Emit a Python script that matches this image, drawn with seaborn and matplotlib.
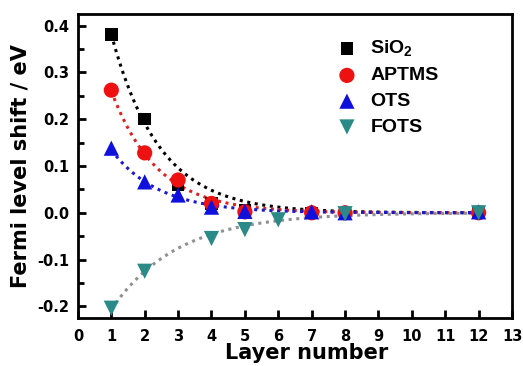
import numpy as np
import pandas as pd
import matplotlib
matplotlib.use("Agg")
import matplotlib.pyplot as plt
import seaborn as sns
from matplotlib.ticker import MultipleLocator

sns.set_style("ticks")
plt.rcParams['font.family'] = ['DejaVu Sans']
plt.rcParams['font.weight'] = 'bold'
plt.rcParams['text.color'] = 'black'
plt.rcParams['axes.labelcolor'] = 'black'
plt.rcParams['xtick.color'] = 'black'
plt.rcParams['ytick.color'] = 'black'
plt.rcParams['mathtext.fontset'] = 'custom'
plt.rcParams['mathtext.rm'] = 'Liberation Sans:bold'
plt.rcParams['mathtext.bf'] = 'Liberation Sans:bold'

# measured points
sio2_x = [1, 2, 3, 4, 5, 7, 8, 12]
sio2_y = [0.381, 0.200, 0.060, 0.020, 0.005, 0.000, 0.000, 0.000]
aptms_x = [1, 2, 3, 4, 5, 7, 8, 12]
aptms_y = [0.262, 0.128, 0.070, 0.020, 0.002, 0.000, 0.000, 0.000]
ots_x = [1, 2, 3, 4, 5, 7, 8, 12]
ots_y = [0.138, 0.066, 0.038, 0.012, 0.003, 0.002, 0.000, 0.002]
fots_x = [1, 2, 4, 5, 6, 8, 12]
fots_y = [-0.204, -0.125, -0.055, -0.036, -0.015, -0.002, 0.000]

# exponential fit parameters (amplitude, decay rate)
fit_amp = [0.76, 0.54, 0.27, -0.34]
fit_rate = [0.69, 0.73, 0.70, 0.50]

labels = ['SiO$_2$', 'APTMS', 'OTS', 'FOTS']
markers = ['s', 'o', '^', 'v']
mcolors = ['#000000', '#ee1111', '#1010dd', '#2a8a88']
lcolors = ['#000000', '#dd2222', '#1a1acc', '#909090']
sizes = [80, 120, 120, 120]

xs = [sio2_x, aptms_x, ots_x, fots_x]
ys = [sio2_y, aptms_y, ots_y, fots_y]

fig = plt.figure(figsize=(5.23, 3.66), dpi=100)
ax = fig.add_axes([0.149, 0.131, 0.830, 0.831])

xfit = np.linspace(1, 12, 200)
for i in range(4):
    fit = pd.DataFrame({'x': xfit, 'y': fit_amp[i] * np.exp(-fit_rate[i] * xfit)})
    sns.lineplot(data=fit, x='x', y='y', ax=ax, color=lcolors[i],
                 linestyle=(0, (1, 1.5)), linewidth=2.2, legend=False, zorder=2)

for i in range(4):
    pts = pd.DataFrame({'x': xs[i], 'y': ys[i]})
    sns.scatterplot(data=pts, x='x', y='y', ax=ax, marker=markers[i], s=sizes[i],
                    color=mcolors[i], edgecolor='none', label=labels[i], zorder=3)

ax.set_xlim(0, 13)
ax.set_ylim(-0.225, 0.425)
ax.xaxis.set_major_locator(MultipleLocator(1))
ax.yaxis.set_major_locator(MultipleLocator(0.1))
ax.yaxis.set_minor_locator(MultipleLocator(0.05))
ax.yaxis.set_major_formatter(plt.FuncFormatter(lambda v, p: f'{v:.1f}'))
ax.tick_params(axis='both', which='both', direction='in', width=2, labelsize=10.5,
               colors='black')
ax.tick_params(axis='both', which='major', length=6)
ax.tick_params(axis='y', which='minor', length=4)
ax.tick_params(axis='x', pad=8)
ax.tick_params(axis='y', pad=6)
ax.tick_params(top=False, right=False)
for lab in ax.get_xticklabels() + ax.get_yticklabels():
    lab.set_fontweight('bold')
for sp in ax.spines.values():
    sp.set_linewidth(2)
    sp.set_color('black')

ax.set_xlabel('Layer number', fontsize=15, fontweight='bold', labelpad=-1,
              x=0.527, color='black')
ax.set_ylabel('Fermi level shift / eV', fontsize=15, fontweight='bold', labelpad=5,
              color='black')

ax.legend(loc='upper left', bbox_to_anchor=(0.557, 0.945), frameon=False,
          prop={'family': 'Liberation Sans', 'size': 14, 'weight': 'bold'},
          handletextpad=0.2, labelspacing=0.42, borderaxespad=0)

fig.savefig('out.png', dpi=100)
